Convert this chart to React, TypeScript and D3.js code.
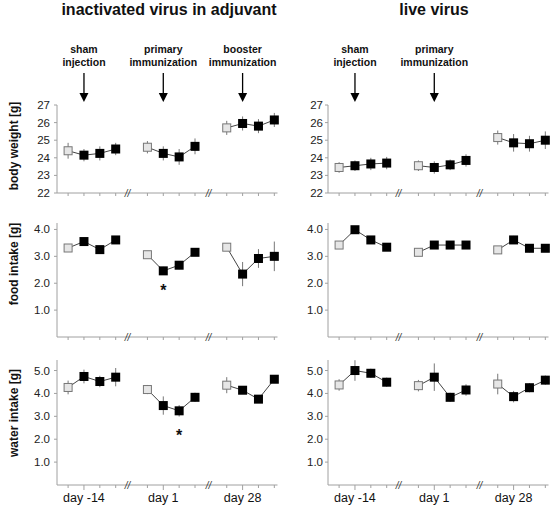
import React from "react";
import * as d3 from "d3";

// x positions (slot index) of the 12 time points, 3 groups of 4
const slots = [0, 1, 2, 3, 5, 6, 7, 8, 10, 11, 12, 13];
const daySlots = [1, 6, 11];
const dayLabels = ["day -14", "day 1", "day 28"];
const breakSlots = [3.75, 8.85];

// body weight [g]
const bwInact = [24.4, 24.15, 24.25, 24.5, 24.6, 24.25, 24.05, 24.65, 25.7, 25.95, 25.8, 26.15];
const bwInactErr = [0.45, 0.35, 0.4, 0.35, 0.35, 0.4, 0.45, 0.45, 0.4, 0.4, 0.4, 0.4];
const bwLive = [23.45, 23.55, 23.65, 23.7, 23.55, 23.45, 23.6, 23.85, 25.15, 24.85, 24.8, 25.0];
const bwLiveErr = [0.3, 0.3, 0.35, 0.35, 0.3, 0.35, 0.3, 0.35, 0.4, 0.5, 0.45, 0.5];

// food intake [g]
const foodInact = [3.31, 3.55, 3.25, 3.61, 3.06, 2.46, 2.67, 3.15, 3.34, 2.34, 2.92, 3.0];
const foodInactErr = [0.1, 0.12, 0.08, 0.12, 0.08, 0.15, 0.15, 0.08, 0.08, 0.45, 0.35, 0.55];
const foodLive = [3.42, 3.99, 3.61, 3.34, 3.15, 3.42, 3.42, 3.42, 3.24, 3.61, 3.3, 3.3];
const foodLiveErr = [0.06, 0.12, 0.06, 0.06, 0.06, 0.1, 0.06, 0.06, 0.06, 0.15, 0.15, 0.12];

// water intake [g]
const waterInact = [4.26, 4.74, 4.52, 4.71, 4.17, 3.47, 3.24, 3.83, 4.36, 4.14, 3.75, 4.62];
const waterInactErr = [0.3, 0.3, 0.25, 0.4, 0.2, 0.4, 0.25, 0.2, 0.35, 0.15, 0.1, 0.1];
const waterLive = [4.37, 5.0, 4.88, 4.49, 4.34, 4.71, 3.83, 4.15, 4.41, 3.86, 4.25, 4.58];
const waterLiveErr = [0.25, 0.45, 0.2, 0.2, 0.25, 0.6, 0.2, 0.25, 0.45, 0.25, 0.2, 0.2];

const bwTicks = [22, 23, 24, 25, 26, 27];
const intakeTicks = [1.0, 2.0, 3.0, 4.0];
const waterTicks = [1.0, 2.0, 3.0, 4.0, 5.0];

const titles = ["inactivated virus in adjuvant", "live virus"];
const yTitles = ["body weight [g]", "food intake [g]", "water intake [g]"];
const yTitleCenters = [146, 264, 413];
const inactEvents = [
  { slot: 1, lines: ["sham", "injection"] },
  { slot: 6, lines: ["primary", "immunization"] },
  { slot: 11, lines: ["booster", "immunization"] },
];
const liveEvents = [
  { slot: 1, lines: ["sham", "injection"] },
  { slot: 6, lines: ["primary", "immunization"] },
];
// significance markers
const foodInactStars = [{ slot: 6, v: 1.95 }];
const waterInactStars = [{ slot: 7, v: 2.4 }];

const FONT = "'Liberation Sans', Arial, Helvetica, sans-serif";

type PanelProps = {
  x0: number;
  x1: number;
  yTop: number;
  yBot: number;
  domain: [number, number];
  ticks: number[];
  fmt: (v: number) => string;
  values: number[];
  errs: number[];
  dayAxis: boolean;
  stars?: { slot: number; v: number }[];
  labelGap: number;
};

function Panel(p: PanelProps) {
  const x = d3.scaleLinear().domain([-0.7, 13.2]).range([p.x0, p.x1]);
  const y = d3.scaleLinear().domain(p.domain).range([p.yBot, p.yTop]);
  const groups = [0, 1, 2].map((g) => [0, 1, 2, 3].map((k) => g * 4 + k));
  const line = d3
    .line<number>()
    .x((i) => x(slots[i]))
    .y((i) => y(p.values[i]));
  const axisColor = "#a0a0a0";
  return (
    <g>
      <line x1={p.x0} x2={p.x0} y1={p.yTop} y2={p.yBot} stroke={axisColor} strokeWidth={1} />
      <line x1={p.x0} x2={p.x1} y1={p.yBot} y2={p.yBot} stroke={axisColor} strokeWidth={1} />
      {p.ticks.map((t) => (
        <g key={t}>
          <line x1={p.x0 - 3} x2={p.x0} y1={y(t)} y2={y(t)} stroke={axisColor} />
          <text
            x={p.x0 - p.labelGap}
            y={y(t)}
            dy="0.35em"
            textAnchor="end"
            fontSize={11.5}
            fill="#222"
            fontFamily={FONT}
          >
            {p.fmt(t)}
          </text>
        </g>
      ))}
      {slots.map((s) => (
        <line
          key={"t" + s}
          x1={x(s)}
          x2={x(s)}
          y1={p.yBot}
          y2={p.yBot + (daySlots.includes(s) && p.dayAxis ? 5 : 3)}
          stroke={axisColor}
        />
      ))}
      {breakSlots.map((s) => (
        <text
          key={"b" + s}
          x={x(s)}
          y={p.yBot}
          dy="0.35em"
          textAnchor="middle"
          fontSize={10}
          fontStyle="italic"
          fill="#333"
          fontFamily={FONT}
        >
          //
        </text>
      ))}
      {p.dayAxis &&
        daySlots.map((s, i) => (
          <text
            key={"d" + s}
            x={x(s)}
            y={p.yBot + 17}
            textAnchor="middle"
            fontSize={12.5}
            fill="#111"
            fontFamily={FONT}
          >
            {dayLabels[i]}
          </text>
        ))}
      {groups.map((g, gi) => (
        <path key={"l" + gi} d={line(g) || ""} fill="none" stroke="#444" strokeWidth={1} />
      ))}
      {p.values.map((v, i) => (
        <line
          key={"e" + i}
          x1={x(slots[i])}
          x2={x(slots[i])}
          y1={y(v - p.errs[i])}
          y2={y(v + p.errs[i])}
          stroke="#777"
          strokeWidth={1}
        />
      ))}
      {p.values.map((v, i) =>
        i % 4 === 0 ? (
          <rect
            key={"m" + i}
            x={x(slots[i]) - 4}
            y={y(v) - 4}
            width={8}
            height={8}
            fill="#e6e6e6"
            stroke="#777"
            strokeWidth={1}
          />
        ) : (
          <rect
            key={"m" + i}
            x={x(slots[i]) - 4.5}
            y={y(v) - 4.5}
            width={9}
            height={9}
            fill="#000"
          />
        )
      )}
      {(p.stars || []).map((s, i) => (
        <text
          key={"s" + i}
          x={x(s.slot)}
          y={y(s.v)}
          dy="0.7em"
          textAnchor="middle"
          fontSize={16}
          fontWeight="bold"
          fill="#111"
          fontFamily={FONT}
        >
          *
        </text>
      ))}
    </g>
  );
}

function Events({ x0, x1, events }: { x0: number; x1: number; events: { slot: number; lines: string[] }[] }) {
  const x = d3.scaleLinear().domain([-0.7, 13.2]).range([x0, x1]);
  return (
    <g>
      {events.map((e, i) => (
        <g key={i}>
          {e.lines.map((l, j) => (
            <text
              key={j}
              x={x(e.slot)}
              y={53 + j * 12.5}
              textAnchor="middle"
              fontSize={10.5}
              fontWeight="bold"
              fill="#111"
              fontFamily={FONT}
            >
              {l}
            </text>
          ))}
          <line x1={x(e.slot)} x2={x(e.slot)} y1={73} y2={95} stroke="#000" strokeWidth={1.3} />
          <path
            d={`M${x(e.slot) - 4.5},93 L${x(e.slot) + 4.5},93 L${x(e.slot)},102 Z`}
            fill="#000"
          />
        </g>
      ))}
    </g>
  );
}

export default function App() {
  const fmtInt = (v: number) => d3.format("d")(v);
  const fmt1 = (v: number) => d3.format(".1f")(v);
  const L = { x0: 57, x1: 277.5 };
  const R = { x0: 328, x1: 548.5 };
  const rows = [
    { yTop: 105, yBot: 193, domain: [22, 27] as [number, number], ticks: bwTicks, fmt: fmtInt, l: [bwInact, bwInactErr], r: [bwLive, bwLiveErr], day: false },
    { yTop: 223, yBot: 337, domain: [0, 4.24] as [number, number], ticks: intakeTicks, fmt: fmt1, l: [foodInact, foodInactErr], r: [foodLive, foodLiveErr], day: false },
    { yTop: 360, yBot: 485, domain: [0, 5.46] as [number, number], ticks: waterTicks, fmt: fmt1, l: [waterInact, waterInactErr], r: [waterLive, waterLiveErr], day: true },
  ];
  const stars = [undefined, foodInactStars, waterInactStars];
  return (
    <svg width={551} height={507} style={{ position: "absolute", left: 0, top: 0, background: "#fff" }}>
      <text x={169} y={15} textAnchor="middle" fontSize={16} fontWeight="bold" fill="#111" fontFamily={FONT}>
        {titles[0]}
      </text>
      <text x={434} y={15} textAnchor="middle" fontSize={16} fontWeight="bold" fill="#111" fontFamily={FONT}>
        {titles[1]}
      </text>
      <Events x0={L.x0} x1={L.x1} events={inactEvents} />
      <Events x0={R.x0} x1={R.x1} events={liveEvents} />
      {rows.map((r, i) => (
        <g key={i}>
          <text
            transform={`translate(14,${yTitleCenters[i]}) rotate(-90)`}
            textAnchor="middle"
            dy="0.35em"
            fontSize={12}
            fontWeight="bold"
            fill="#111"
            fontFamily={FONT}
          >
            {yTitles[i]}
          </text>
          <Panel
            x0={L.x0}
            x1={L.x1}
            yTop={r.yTop}
            yBot={r.yBot}
            domain={r.domain}
            ticks={r.ticks}
            fmt={r.fmt}
            values={r.l[0]}
            errs={r.l[1]}
            dayAxis={r.day}
            stars={stars[i]}
            labelGap={7}
          />
          <Panel
            x0={R.x0}
            x1={R.x1}
            yTop={r.yTop}
            yBot={r.yBot}
            domain={r.domain}
            ticks={r.ticks}
            fmt={r.fmt}
            values={r.r[0]}
            errs={r.r[1]}
            dayAxis={r.day}
            labelGap={5}
          />
        </g>
      ))}
    </svg>
  );
}
